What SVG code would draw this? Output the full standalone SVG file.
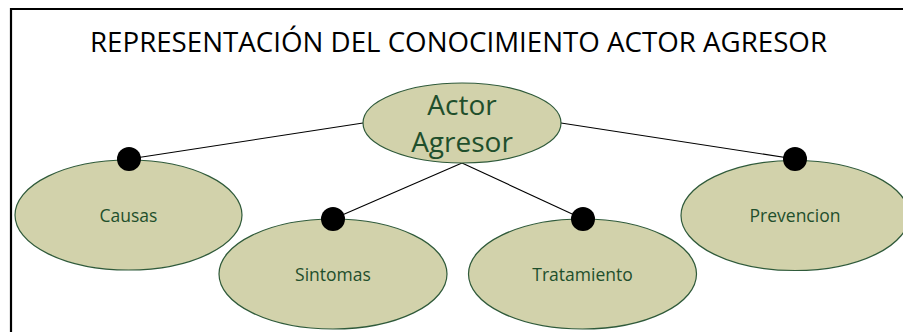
<svg xmlns="http://www.w3.org/2000/svg" width="903" height="332" viewBox="0 0 903 332">
<style>
.node ellipse{fill:#d2d2ab;stroke:#2f5a3a;stroke-width:1.2}
.node text{font-family:"Open Sans","Liberation Sans",sans-serif;fill:#1f4f2c;text-anchor:middle}
.lbl{font-size:17.5px}
.dot{fill:#000}
.conn line{stroke:#000;stroke-width:1.1}
.title{font-family:"Open Sans","Liberation Sans",sans-serif;font-size:26.5px;fill:#000}
</style>
<rect x="0" y="0" width="903" height="332" fill="#fff"/>
<path d="M11 332 V9 H903" fill="none" stroke="#000" stroke-width="2.2"/>
<text class="title" x="90" y="52" textLength="737" lengthAdjust="spacingAndGlyphs">REPRESENTACIÓN DEL CONOCIMIENTO ACTOR AGRESOR</text>
<g id="connectors" class="conn">
<line x1="363" y1="123" x2="129" y2="159"/>
<line x1="561" y1="123" x2="795" y2="159"/>
<line x1="462" y1="163" x2="333" y2="219"/>
<line x1="462" y1="163" x2="583" y2="219"/>
</g>
<g id="actor-agresor" class="node">
<ellipse cx="462" cy="123" rx="99" ry="40"/>
<text x="462" y="115" style="font-size:28px">Actor</text>
<text x="462" y="152" style="font-size:28px">Agresor</text>
</g>
<g id="causas" class="node">
<ellipse cx="128.5" cy="215" rx="113.5" ry="55"/>
<text class="lbl" x="128.5" y="222">Causas</text>
<circle class="dot" cx="129" cy="159" r="12"/>
</g>
<g id="prevencion" class="node">
<ellipse cx="795" cy="215.5" rx="114" ry="55"/>
<text class="lbl" x="795" y="222">Prevencion</text>
<circle class="dot" cx="795" cy="159" r="12"/>
</g>
<g id="sintomas" class="node">
<ellipse cx="333" cy="274" rx="114" ry="55"/>
<text class="lbl" x="333" y="281">Sintomas</text>
<circle class="dot" cx="333" cy="219" r="12"/>
</g>
<g id="tratamiento" class="node">
<ellipse cx="582.5" cy="274" rx="114" ry="55"/>
<text class="lbl" x="582.5" y="281">Tratamiento</text>
<circle class="dot" cx="583" cy="219" r="12"/>
</g>
</svg>
